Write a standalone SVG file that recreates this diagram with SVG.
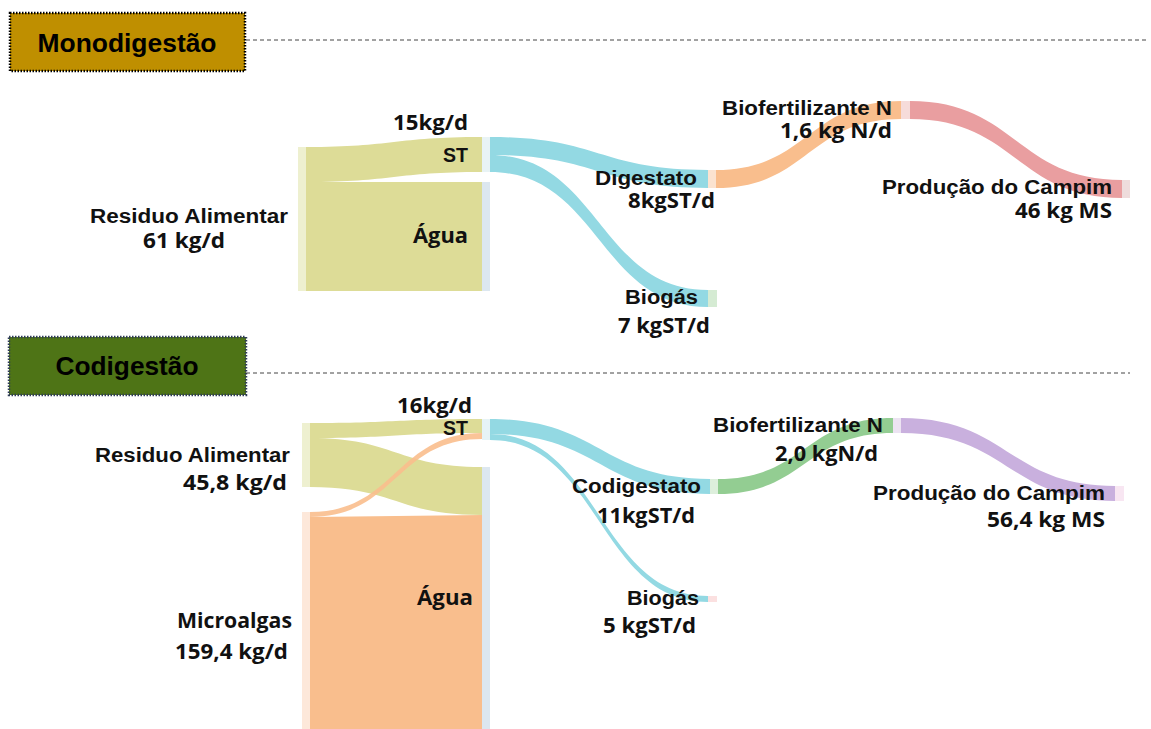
<svg xmlns="http://www.w3.org/2000/svg" width="1151" height="729" viewBox="0 0 1151 729">
<style>
.a{font-family:"Liberation Sans",Arial,sans-serif;font-weight:bold;font-size:20px;fill:#111}
.c{font-family:"Open Sans","Noto Sans",sans-serif;font-weight:bold;font-size:21px;fill:#111}
.h{font-family:"Liberation Sans",Arial,sans-serif;font-weight:bold;font-size:25px;fill:#000}
.sep{stroke:#444;stroke-width:1;stroke-dasharray:4 3;fill:none}
.ye{fill:#DDDC97}
.bl{fill:#93D9E3}
.or{fill:#F9BE8D}
.rd{fill:#E99EA0}
.gr{fill:#93CD92}
.pu{fill:#C9B0DE}
</style>
<rect width="1151" height="729" fill="#fff"/>

<g id="hdr-mono">
<rect x="10" y="13" width="235" height="58" fill="#BF8F00" stroke="#000" stroke-width="2.5" stroke-dasharray="1.5 1.5"/>
<text class="h" x="127" y="52" text-anchor="middle" textLength="179" lengthAdjust="spacingAndGlyphs">Monodigestão</text>
</g>
<line class="sep" x1="246" y1="40" x2="1148" y2="40"/>

<g id="hdr-co">
<rect x="9" y="337" width="237" height="58" fill="#4E7416" stroke="#2F3D55" stroke-width="2.5" stroke-dasharray="1.5 1.5"/>
<text class="h" x="127" y="375" text-anchor="middle" textLength="143" lengthAdjust="spacingAndGlyphs">Codigestão</text>
</g>
<line class="sep" x1="246" y1="373" x2="1130" y2="373"/>

<g id="connectors">
<path class="ye" d="M306 147 C394 147 394 137 482 137 L482 172 C394 172 394 182 306 182 Z"/>
<path class="ye" d="M306 182 L482 182 L482 291 L306 291 Z"/>
<path class="bl" d="M490 137 C599 137 599 170 708 170 L708 188 C599 188 599 155 490 155 Z"/>
<path class="bl" d="M490 155 C599 155 599 290 708 290 L708 307 C599 307 599 172 490 172 Z"/>
<path class="or" d="M716 170 C808 170 808 101 901 101 L901 119 C808 119 808 188 716 188 Z"/>
<path class="rd" d="M910 101 C1016 101 1016 180 1122 180 L1122 198 C1016 198 1016 119 910 119 Z"/>
<path class="ye" d="M310 423 C396 423 396 419 482 419 L482 433 C396 433 396 438 310 438 Z"/>
<path class="ye" d="M310 438 C396 438 396 467 482 467 L482 515 C396 515 396 487 310 487 Z"/>
<path class="or" d="M310 517 L482 515 L482 729 L310 729 Z"/>
<path class="or" opacity="0.9" d="M310 512 C396 512 396 433 482 433 L482 439 C396 439 396 517 310 517 Z"/>
<path class="bl" d="M490 419 C600 419 600 479 710 479 L710 494 C600 494 600 434 490 434 Z"/>
<path class="bl" d="M490 434 C599 434 599 596 708 596 L708 602 C599 602 599 440 490 440 Z"/>
<path class="gr" d="M718 479 C805 479 805 418 893 418 L893 433 C805 433 805 494 718 494 Z"/>
<path class="pu" d="M901 418 C1008 418 1008 486 1115 486 L1115 501 C1008 501 1008 433 901 433 Z"/>
</g>

<g id="m-residuo">
<rect x="298" y="147" width="8" height="144" fill="#EEF0D0"/>
<text class="a" x="189" y="223" text-anchor="middle" textLength="198" lengthAdjust="spacingAndGlyphs">Residuo Alimentar</text>
<text class="c" x="184" y="248" text-anchor="middle" textLength="82" lengthAdjust="spacingAndGlyphs">61 kg/d</text>
</g>
<g id="m-st">
<rect x="482" y="137" width="8" height="35" fill="#E8F3F5"/>
<text class="c" x="468" y="130" text-anchor="end" textLength="75" lengthAdjust="spacingAndGlyphs">15kg/d</text>
<text class="a" x="468" y="162" text-anchor="end" textLength="25" lengthAdjust="spacingAndGlyphs">ST</text>
</g>
<g id="m-agua">
<rect x="482" y="182" width="8" height="109" fill="#DCE7F0"/>
<text class="c" x="468" y="243" text-anchor="end" textLength="55" lengthAdjust="spacingAndGlyphs">Água</text>
</g>
<g id="m-digestato">
<rect x="708" y="170" width="8" height="18" fill="#FBE3D0"/>
<text class="a" x="697" y="185" text-anchor="end" textLength="102" lengthAdjust="spacingAndGlyphs">Digestato</text>
<text class="c" x="715" y="208" text-anchor="end" textLength="87" lengthAdjust="spacingAndGlyphs">8kgST/d</text>
</g>
<g id="m-biogas">
<rect x="708" y="290" width="9" height="17" fill="#D5EBD3"/>
<text class="a" x="698" y="304" text-anchor="end" textLength="73" lengthAdjust="spacingAndGlyphs">Biogás</text>
<text class="c" x="710" y="333" text-anchor="end" textLength="92" lengthAdjust="spacingAndGlyphs">7 kgST/d</text>
</g>
<g id="m-biofert">
<rect x="901" y="101" width="9" height="18" fill="#F6DCDA"/>
<text class="a" x="892" y="115" text-anchor="end" textLength="170" lengthAdjust="spacingAndGlyphs">Biofertilizante N</text>
<text class="c" x="892" y="138" text-anchor="end" textLength="112" lengthAdjust="spacingAndGlyphs">1,6 kg N/d</text>
</g>
<g id="m-producao">
<rect x="1122" y="180" width="8" height="18" fill="#EEDCDC"/>
<text class="a" x="1112" y="194" text-anchor="end" textLength="230" lengthAdjust="spacingAndGlyphs">Produção do Campim</text>
<text class="c" x="1112" y="218" text-anchor="end" textLength="97" lengthAdjust="spacingAndGlyphs">46 kg MS</text>
</g>

<g id="c-residuo">
<rect x="302" y="423" width="8" height="64" fill="#EEF0D0"/>
<text class="a" x="290" y="462" text-anchor="end" textLength="195" lengthAdjust="spacingAndGlyphs">Residuo Alimentar</text>
<text class="c" x="287" y="490" text-anchor="end" textLength="104" lengthAdjust="spacingAndGlyphs">45,8 kg/d</text>
</g>
<g id="c-microalgas">
<rect x="302" y="512" width="8" height="217" fill="#FDE8DA"/>
<text class="c" x="292" y="628" text-anchor="end" textLength="115" lengthAdjust="spacingAndGlyphs">Microalgas</text>
<text class="c" x="288" y="659" text-anchor="end" textLength="113" lengthAdjust="spacingAndGlyphs">159,4 kg/d</text>
</g>
<g id="c-st">
<rect x="482" y="419" width="8" height="21" fill="#E6F3F6"/>
<text class="c" x="472" y="413" text-anchor="end" textLength="75" lengthAdjust="spacingAndGlyphs">16kg/d</text>
<text class="a" x="468" y="435" text-anchor="end" textLength="25" lengthAdjust="spacingAndGlyphs">ST</text>
</g>
<g id="c-agua">
<rect x="482" y="467" width="8" height="262" fill="#DCE7F0"/>
<text class="c" x="473" y="605" text-anchor="end" textLength="56" lengthAdjust="spacingAndGlyphs">Água</text>
</g>
<g id="c-codigestato">
<rect x="710" y="479" width="8" height="15" fill="#DDEFDC"/>
<text class="a" x="701" y="493" text-anchor="end" textLength="129" lengthAdjust="spacingAndGlyphs">Codigestato</text>
<text class="c" x="695" y="523" text-anchor="end" textLength="98" lengthAdjust="spacingAndGlyphs">11kgST/d</text>
</g>
<g id="c-biogas">
<rect x="708" y="596" width="9" height="6" fill="#FBE0E0"/>
<text class="a" x="699" y="605" text-anchor="end" textLength="72" lengthAdjust="spacingAndGlyphs">Biogás</text>
<text class="c" x="696" y="633" text-anchor="end" textLength="93" lengthAdjust="spacingAndGlyphs">5 kgST/d</text>
</g>
<g id="c-biofert">
<rect x="893" y="418" width="8" height="15" fill="#ECE3F2"/>
<text class="a" x="883" y="432" text-anchor="end" textLength="170" lengthAdjust="spacingAndGlyphs">Biofertilizante N</text>
<text class="c" x="878" y="461" text-anchor="end" textLength="103" lengthAdjust="spacingAndGlyphs">2,0 kgN/d</text>
</g>
<g id="c-producao">
<rect x="1115" y="486" width="9" height="15" fill="#F8E6F2"/>
<text class="a" x="1105" y="500" text-anchor="end" textLength="232" lengthAdjust="spacingAndGlyphs">Produção do Campim</text>
<text class="c" x="1105" y="527" text-anchor="end" textLength="118" lengthAdjust="spacingAndGlyphs">56,4 kg MS</text>
</g>
</svg>
